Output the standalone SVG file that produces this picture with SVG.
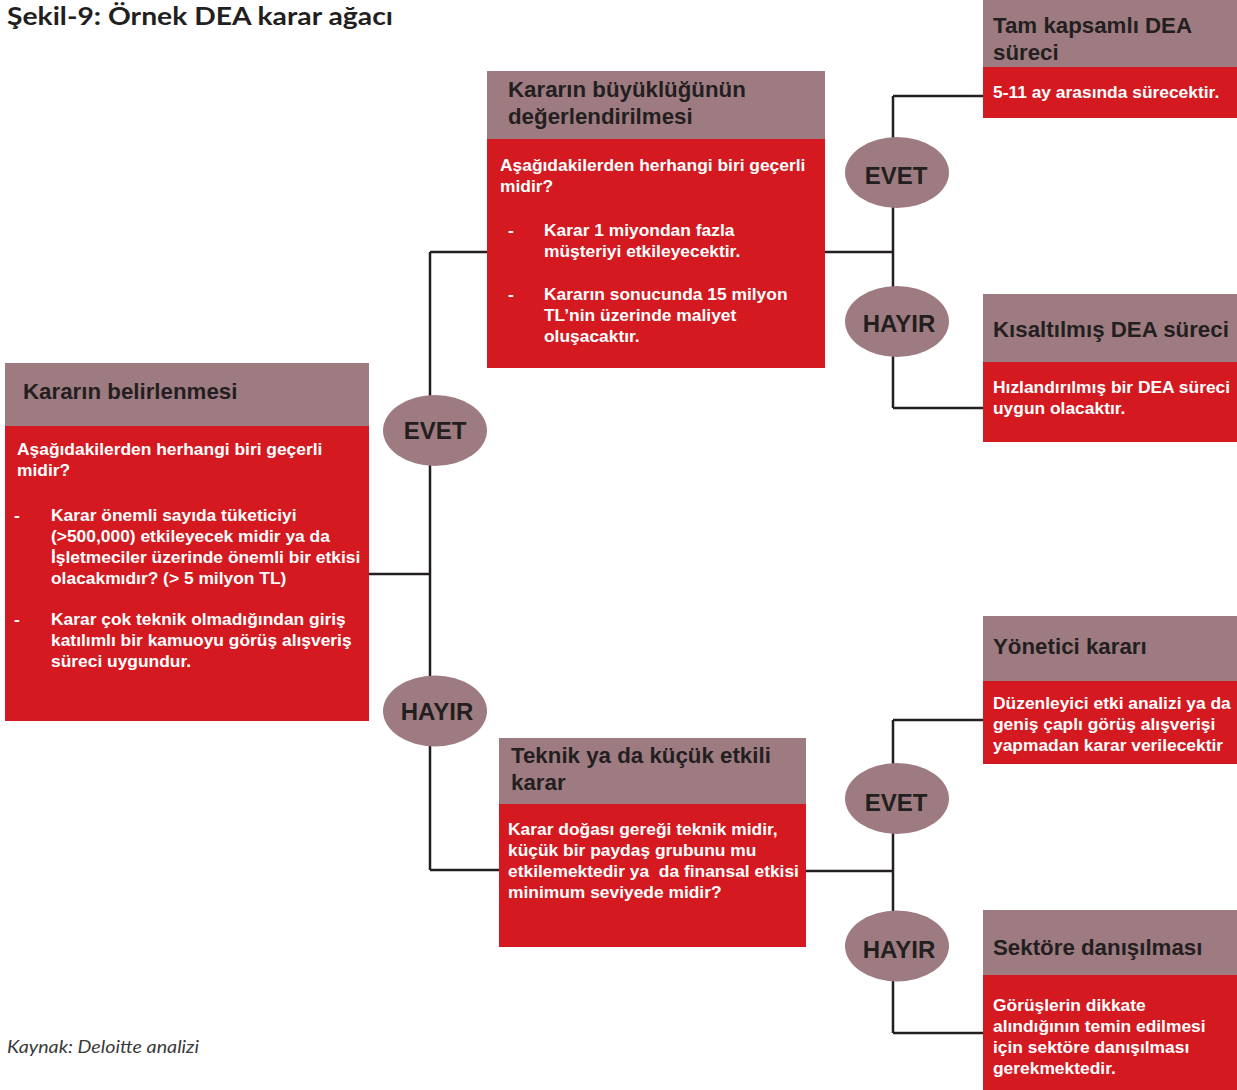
<svg xmlns="http://www.w3.org/2000/svg" width="1237" height="1090" viewBox="0 0 1237 1090">
<style>
.hd{fill:#9E7B80}
.bd{fill:#D51920}
.ov{fill:#9E7B80}
.ht{font-family:"Liberation Sans",Arial,sans-serif;font-weight:bold;font-size:22.3px;fill:#231F20}
.bt{font-family:"Liberation Sans",Arial,sans-serif;font-weight:bold;font-size:17.4px;fill:#FFFFFF}
.ot{font-family:"Liberation Sans",Arial,sans-serif;font-weight:bold;font-size:24px;fill:#231F20;text-anchor:middle}
.ln{fill:none;stroke:#231F20;stroke-width:2.5}
</style>
<rect width="1237" height="1090" fill="#FFFFFF"/>
<text x="7" y="25" font-family="Lato,'Noto Sans',sans-serif" font-weight="bold" font-size="25" fill="#231F20" textLength="386" lengthAdjust="spacingAndGlyphs">Şekil-9: Örnek DEA karar ağacı</text>
<text x="7" y="1053" font-family="Lato,'Noto Sans',sans-serif" font-style="italic" font-size="17" fill="#3A3A3A" textLength="192" lengthAdjust="spacingAndGlyphs">Kaynak: Deloitte analizi</text>

<g id="connectors">
<path class="ln" d="M369 574 H430 M430 252 V870 M430 252 H487 M430 870 H499"/>
<path class="ln" d="M825 252 H893 M893 96 V408 M893 96 H983 M893 408 H983"/>
<path class="ln" d="M806 871 H893 M893 720 V1033 M893 720 H983 M893 1033 H983"/>
</g>

<g id="node-belirlenme">
<rect class="hd" x="5" y="363" width="364" height="63"/>
<rect class="bd" x="5" y="426" width="364" height="295"/>
<text class="ht" x="23" y="399">Kararın belirlenmesi</text>
<text class="bt" x="17" y="455">Aşağıdakilerden herhangi biri geçerli</text>
<text class="bt" x="17" y="476">midir?</text>
<text class="bt" x="14" y="521">-</text>
<text class="bt" x="51" y="521">Karar önemli sayıda tüketiciyi</text>
<text class="bt" x="51" y="542">(&gt;500,000) etkileyecek midir ya da</text>
<text class="bt" x="51" y="563">İşletmeciler üzerinde önemli bir etkisi</text>
<text class="bt" x="51" y="584">olacakmıdır? (&gt; 5 milyon TL)</text>
<text class="bt" x="14" y="625">-</text>
<text class="bt" x="51" y="625">Karar çok teknik olmadığından giriş</text>
<text class="bt" x="51" y="646">katılımlı bir kamuoyu görüş alışveriş</text>
<text class="bt" x="51" y="667">süreci uygundur.</text>
</g>

<g id="node-buyukluk">
<rect class="hd" x="487" y="71" width="338" height="68"/>
<rect class="bd" x="487" y="139" width="338" height="229"/>
<text class="ht" x="508" y="97">Kararın büyüklüğünün</text>
<text class="ht" x="508" y="124">değerlendirilmesi</text>
<text class="bt" x="500" y="171">Aşağıdakilerden herhangi biri geçerli</text>
<text class="bt" x="500" y="192">midir?</text>
<text class="bt" x="508" y="236">-</text>
<text class="bt" x="544" y="236">Karar 1 miyondan fazla</text>
<text class="bt" x="544" y="257">müşteriyi etkileyecektir.</text>
<text class="bt" x="508" y="300">-</text>
<text class="bt" x="544" y="300">Kararın sonucunda 15 milyon</text>
<text class="bt" x="544" y="321">TL’nin üzerinde maliyet</text>
<text class="bt" x="544" y="342">oluşacaktır.</text>
</g>

<g id="node-teknik">
<rect class="hd" x="499" y="738" width="307" height="66"/>
<rect class="bd" x="499" y="804" width="307" height="143"/>
<text class="ht" x="511" y="763">Teknik ya da küçük etkili</text>
<text class="ht" x="511" y="790">karar</text>
<text class="bt" x="508" y="835">Karar doğası gereği teknik midir,</text>
<text class="bt" x="508" y="856">küçük bir paydaş grubunu mu</text>
<text class="bt" x="508" y="877" style="white-space:pre">etkilemektedir ya  da finansal etkisi</text>
<text class="bt" x="508" y="898">minimum seviyede midir?</text>
</g>

<g id="node-tam">
<rect class="hd" x="983" y="0" width="254" height="67"/>
<rect class="bd" x="983" y="67" width="254" height="51"/>
<text class="ht" x="993" y="33">Tam kapsamlı DEA</text>
<text class="ht" x="993" y="60">süreci</text>
<text class="bt" x="993" y="98">5-11 ay arasında sürecektir.</text>
</g>

<g id="node-kisaltilmis">
<rect class="hd" x="983" y="294" width="254" height="68"/>
<rect class="bd" x="983" y="362" width="254" height="80"/>
<text class="ht" x="993" y="337">Kısaltılmış DEA süreci</text>
<text class="bt" x="993" y="393">Hızlandırılmış bir DEA süreci</text>
<text class="bt" x="993" y="414">uygun olacaktır.</text>
</g>

<g id="node-yonetici">
<rect class="hd" x="983" y="616" width="254" height="65"/>
<rect class="bd" x="983" y="681" width="254" height="83"/>
<text class="ht" x="993" y="654">Yönetici kararı</text>
<text class="bt" x="993" y="709">Düzenleyici etki analizi ya da</text>
<text class="bt" x="993" y="730">geniş çaplı görüş alışverişi</text>
<text class="bt" x="993" y="751">yapmadan karar verilecektir</text>
</g>

<g id="node-sektor">
<rect class="hd" x="983" y="910" width="254" height="65"/>
<rect class="bd" x="983" y="975" width="254" height="115"/>
<text class="ht" x="993" y="955">Sektöre danışılması</text>
<text class="bt" x="993" y="1011">Görüşlerin dikkate</text>
<text class="bt" x="993" y="1032">alındığının temin edilmesi</text>
<text class="bt" x="993" y="1053">için sektöre danışılması</text>
<text class="bt" x="993" y="1074">gerekmektedir.</text>
</g>

<g id="oval-evet-1">
<ellipse class="ov" cx="435" cy="430.5" rx="52" ry="35.5"/>
<text class="ot" x="435" y="439">EVET</text>
</g>
<g id="oval-hayir-1">
<ellipse class="ov" cx="435" cy="711" rx="52" ry="35.5"/>
<text class="ot" x="437" y="720">HAYIR</text>
</g>
<g id="oval-evet-2">
<ellipse class="ov" cx="897" cy="172.5" rx="52" ry="35.5"/>
<text class="ot" x="896" y="184">EVET</text>
</g>
<g id="oval-hayir-2">
<ellipse class="ov" cx="897" cy="321.5" rx="52" ry="35.5"/>
<text class="ot" x="899" y="332">HAYIR</text>
</g>
<g id="oval-evet-3">
<ellipse class="ov" cx="897" cy="798.5" rx="52" ry="35.5"/>
<text class="ot" x="896" y="811">EVET</text>
</g>
<g id="oval-hayir-3">
<ellipse class="ov" cx="897" cy="946" rx="52" ry="35.5"/>
<text class="ot" x="899" y="958">HAYIR</text>
</g>
</svg>
